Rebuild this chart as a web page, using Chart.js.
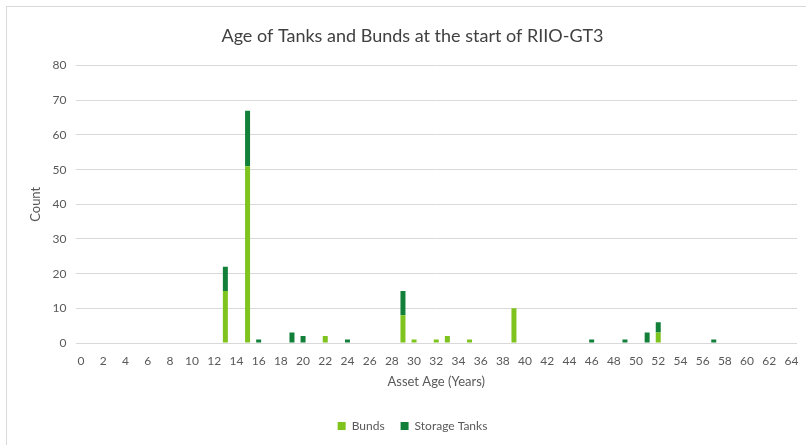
<!DOCTYPE html>
<html>
<head>
<meta charset="utf-8">
<script src="https://cdn.jsdelivr.net/npm/chart.js@4"></script>
<style>
  html, body { margin: 0; padding: 0; background: #fff; }
  .frame {
    position: absolute; left: 6px; top: 6px; width: 800px; height: 439px;
    border-top: 1px solid #d9d9d9; border-left: 1px solid #d9d9d9;
  }
  .wrap { position: absolute; left: 0; top: 0; width: 806px; height: 445px; }
</style>
</head>
<body>
<div class="frame"></div>
<div class="wrap"><canvas id="ageChart" width="806" height="445"></canvas></div>
<script>
// Asset ages 0..64 years
const ages = [];
for (let a = 0; a <= 64; a++) ages.push(String(a));

// Counts per age, keyed by year
const bundCounts = { 13: 15, 15: 51, 22: 2, 29: 8, 30: 1, 32: 1, 33: 2, 35: 1, 39: 10, 52: 3 };
const tankCounts = { 13: 7, 15: 16, 16: 1, 19: 3, 20: 2, 24: 1, 29: 7, 46: 1, 49: 1, 51: 3, 52: 3, 57: 1 };

const bunds = ages.map(a => bundCounts[a] || 0);
const tanks = ages.map(a => tankCounts[a] || 0);

const lightGreen = "#7fc31f";
const darkGreen = "#13803a";
const textGray = "#595959";
const fontFamily = "Lato, 'Open Sans', sans-serif";

new Chart(document.getElementById("ageChart"), {
  type: "bar",
  data: {
    labels: ages,
    datasets: [
      { label: "Bunds", data: bunds, backgroundColor: lightGreen, barPercentage: 0.45, categoryPercentage: 1 },
      { label: "Storage Tanks", data: tanks, backgroundColor: darkGreen, barPercentage: 0.45, categoryPercentage: 1 }
    ]
  },
  options: {
    responsive: false,
    animation: false,
    layout: { padding: { left: 28, right: 9, top: 14, bottom: 3 } },
    plugins: {
      title: {
        display: true,
        text: "Age of Tanks and Bunds at the start of RIIO-GT3",
        color: "#404040",
        font: { family: fontFamily, size: 18, weight: "normal" },
        padding: { top: 11, bottom: 19 }
      },
      legend: {
        position: "bottom",
        labels: {
          color: textGray,
          font: { family: fontFamily, size: 12 },
          boxWidth: 8, boxHeight: 8, padding: 16
        }
      },
      tooltip: { enabled: true }
    },
    scales: {
      x: {
        stacked: true,
        grid: { display: false },
        border: { display: false },
        ticks: {
          color: textGray,
          font: { family: fontFamily, size: 12 },
          autoSkip: false, maxRotation: 0,
          callback: function (v, i) { return i % 2 === 0 ? this.getLabelForValue(v) : ""; }
        },
        title: {
          display: true, text: "Asset Age (Years)", color: textGray,
          font: { family: fontFamily, size: 13 }, padding: { top: 3, bottom: 14 }
        }
      },
      y: {
        stacked: true,
        min: 0, max: 80,
        grid: { color: "#d9d9d9", drawTicks: false },
        border: { display: false },
        ticks: {
          stepSize: 10, color: textGray, padding: 9,
          font: { family: fontFamily, size: 12 }
        },
        title: {
          display: true, text: "Count", color: textGray,
          font: { family: fontFamily, size: 13 }, padding: { top: 0, bottom: 0 }
        }
      }
    }
  }
});
</script>
</body>
</html>
